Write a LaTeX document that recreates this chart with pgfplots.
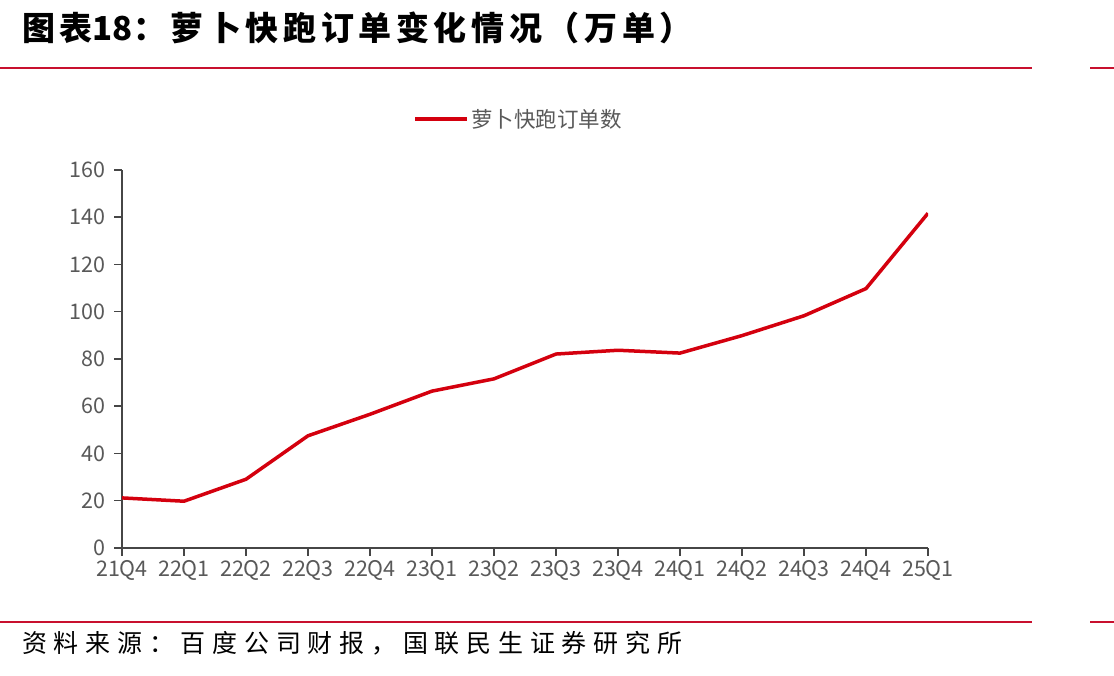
\documentclass[border=0pt]{standalone}
\usepackage{pgfplots}
\pgfplotsset{compat=1.18}
\usepackage{fontspec}
\setmainfont{Noto Sans CJK SC}
\definecolor{rulered}{RGB}{200,16,46}
\definecolor{datared}{RGB}{212,0,14}
\definecolor{ticktext}{RGB}{89,89,89}
\definecolor{axisgray}{RGB}{70,70,70}
\begin{document}
\begin{tikzpicture}[x=1pt,y=1pt]
\path[use as bounding box] (0,0) rectangle (1114,675);
\fill[white] (0,0) rectangle (1114,675);
\node[anchor=west,inner sep=0pt,font=\fontsize{33}{33}\selectfont\bfseries\addfontfeature{LetterSpace=14}] at (22,647) {图表{\addfontfeature{LetterSpace=0}18}：萝卜快跑订单变化情况（万单）};
\draw[rulered,line width=2pt] (0,607) -- (1032,607);
\draw[rulered,line width=2pt] (1090,607) -- (1114,607);
\draw[rulered,line width=2pt] (0,53) -- (1032,53);
\draw[rulered,line width=2pt] (1090,53) -- (1114,53);
\node[anchor=west,inner sep=0pt,font=\fontsize{25}{25}\selectfont\addfontfeature{LetterSpace=27}] at (22,32) {资料来源：百度公司财报，国联民生证券研究所};
\begin{axis}[
  at={(122pt,127pt)}, anchor=south west,
  scale only axis, width=806pt, height=378pt,
  xmin=0, xmax=13, ymin=0, ymax=160,
  xtick={0,...,13},
  xticklabels={21Q4,22Q1,22Q2,22Q3,22Q4,23Q1,23Q2,23Q3,23Q4,24Q1,24Q2,24Q3,24Q4,25Q1},
  ytick={0,20,...,160},
  axis x line*=bottom, axis y line*=left,
  axis line style={-, axisgray, line width=1.5pt},
  tick align=outside, major tick length=8pt,
  tick style={axisgray, line width=1.5pt},
  /pgf/number format/assume math mode=true,
  ticklabel style={font=\fontsize{21.5}{21.5}\selectfont, text=ticktext},
  xticklabel style={yshift=-1pt},
  yticklabel style={xshift=-5pt},
  legend style={at={(rel axis cs:0.492,1.135)}, anchor=center, draw=none, fill=none,
    font=\fontsize{21.5}{21.5}\selectfont, text=ticktext},
  legend image code/.code={\draw[#1,line width=3.5pt] (0pt,0pt) -- (52pt,0pt);},
]
\addplot[datared, line width=3.5pt, line join=round] coordinates {
(0,21.2) (1,19.8) (2,29.1) (3,47.5) (4,56.6) (5,66.4) (6,71.6) (7,82.1) (8,83.7) (9,82.5) (10,89.9) (11,98.3) (12,109.8) (13,141.7)
};
\addlegendentry{萝卜快跑订单数}
\end{axis}
\end{tikzpicture}
\end{document}
